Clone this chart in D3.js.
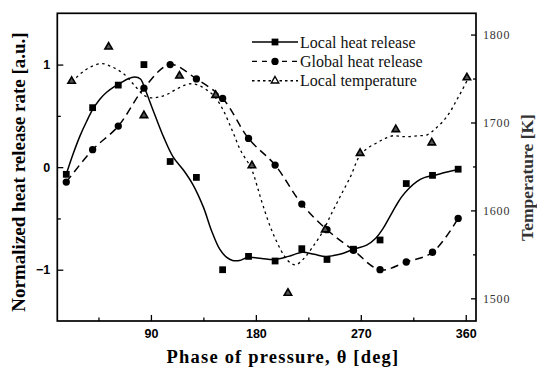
<!DOCTYPE html>
<meta charset="utf-8">
<script src="https://d3js.org/d3.v7.min.js"></script>
<style>
  body { margin: 0; background: #fff; }
  svg { display: block; }
</style>
<div id="my_dataviz"></div>
<script>

// measured points (phase in deg)
var hrPhase   = [17.4, 40, 62, 84, 106.5, 129, 151.5, 173.7, 196.5, 219.4, 241, 263.7, 286.5, 309, 331.5, 353.5];
var localHR   = [-0.07, 0.58, 0.80, 1.00, 0.055, -0.10, -1.00, -0.87, -0.915, -0.795, -0.90, -0.80, -0.71, -0.16, -0.08, -0.02];
var globalHR  = [-0.146, 0.17, 0.40, 0.77, 1.00, 0.86, 0.67, 0.28, 0.02, -0.36, -0.61, -0.81, -1.00, -0.925, -0.83, -0.50];
var tempPhase = [22, 53.7, 84, 114.5, 145.5, 176.6, 207.5, 239.5, 269.4, 300, 330.9, 361];
var localTemp = [1747, 1786, 1708, 1753, 1731, 1651, 1506, 1578, 1665, 1692, 1677, 1751];

// fitted curves
var hrFitPhase = [17.4, 23, 29, 35, 40, 46, 52, 58, 64, 70, 76, 81, 85, 92, 101, 109, 118, 126, 135, 142, 149, 155, 160, 166, 173, 185, 196, 208, 220, 230, 240, 252, 264, 275, 283, 289, 295, 300, 305, 311, 318, 325, 333, 343, 354];
var hrFit      = [-0.07, 0.12, 0.30, 0.45, 0.56, 0.66, 0.73, 0.78, 0.82, 0.86, 0.88, 0.86, 0.76, 0.55, 0.29, 0.10, -0.03, -0.17, -0.39, -0.62, -0.80, -0.88, -0.91, -0.91, -0.88, -0.89, -0.90, -0.87, -0.83, -0.85, -0.87, -0.85, -0.80, -0.76, -0.69, -0.60, -0.48, -0.38, -0.29, -0.21, -0.14, -0.10, -0.08, -0.05, -0.02];
var tFitPhase = [22.5, 30, 38, 48, 57, 67, 76, 84, 90, 97, 104, 112, 120, 126, 133, 140, 145, 152, 160, 167, 176, 181, 186, 194, 204, 209, 214, 221, 229, 237, 244, 252, 261, 269, 276, 284, 291, 298, 305, 312, 320, 327, 334, 341, 347, 352, 357, 362];
var tFit      = [1746, 1756, 1763, 1767, 1763, 1755, 1742, 1731, 1728, 1729, 1732, 1738, 1743, 1744, 1741, 1735, 1729, 1714, 1690, 1668, 1648, 1628, 1606, 1576, 1549, 1541, 1538, 1545, 1559, 1575, 1594, 1615, 1638, 1662, 1671, 1677, 1682, 1685, 1684, 1684, 1685, 1686, 1693, 1702, 1713, 1725, 1737, 1750];

var xTicks = [90, 180, 270, 360];
var xMinor = [45, 135, 225, 315];
var yTicks = [-1, 0, 1];
var yMinor = [-0.5, 0.5];
var tTicks = [1500, 1600, 1700, 1800];
var tMinor = [1550, 1650, 1750];

var legendNames = ["Local heat release", "Global heat release", "Local temperature"];

var margin = {top: 13.3, right: 61, bottom: 47, left: 57.3},
    width = 537 - margin.left - margin.right,
    height = 368 - margin.top - margin.bottom;

var svgRoot = d3.select("#my_dataviz")
  .append("svg")
    .attr("width", 537)
    .attr("height", 368);
var svg = svgRoot.append("g")
    .attr("transform", "translate(" + margin.left + "," + margin.top + ")");

var x = d3.scaleLinear().domain([9.7, 368.8]).range([0, width]);
var y = d3.scaleLinear().domain([-1.5, 1.5]).range([height, 0]);
var yT = d3.scaleLinear().domain([1474.2, 1824.2]).range([height, 0]);

var sansBold = "'Liberation Sans', Arial, sans-serif";
var serif = "'Liberation Serif', 'Times New Roman', serif";

function styleAxis(g, font, weight, size, color) {
  g.select(".domain").remove();
  g.selectAll(".tick line").attr("stroke", "#000").attr("stroke-width", 1.3);
  g.selectAll("text")
    .attr("font-family", font)
    .attr("font-weight", weight)
    .attr("font-size", size)
    .attr("fill", color);
}

// bottom axis
svg.append("g")
  .attr("transform", "translate(0," + height + ")")
  .call(d3.axisBottom(x).tickValues(xTicks).tickSizeInner(-6).tickSizeOuter(0).tickPadding(8))
  .call(styleAxis, sansBold, "bold", "12.5px", "#000");
svg.append("g")
  .attr("transform", "translate(0," + height + ")")
  .call(d3.axisBottom(x).tickValues(xMinor).tickSizeInner(-3.5).tickSizeOuter(0).tickFormat(""))
  .call(styleAxis, sansBold, "bold", "12px", "#000");

// left axis
svg.append("g")
  .call(d3.axisLeft(y).tickValues(yTicks).tickSizeInner(-6).tickSizeOuter(0).tickPadding(7).tickFormat(d3.format("d")))
  .call(styleAxis, sansBold, "bold", "12.5px", "#000");
svg.append("g")
  .call(d3.axisLeft(y).tickValues(yMinor).tickSizeInner(-3.5).tickSizeOuter(0).tickFormat(""))
  .call(styleAxis, sansBold, "bold", "12px", "#000");

// right axis
var rightAx = svg.append("g")
  .attr("transform", "translate(" + width + ",0)")
  .call(d3.axisRight(yT).tickValues(tTicks).tickSizeInner(-5).tickSizeOuter(0).tickPadding(7).tickFormat(d3.format("d")))
  .call(styleAxis, serif, "normal", "12px", "#333");
rightAx.selectAll("text").attr("letter-spacing", "0.8px");
svg.append("g")
  .attr("transform", "translate(" + width + ",0)")
  .call(d3.axisRight(yT).tickValues(tMinor).tickSizeInner(-3).tickSizeOuter(0).tickFormat(""))
  .call(styleAxis, serif, "normal", "12px", "#333");

// frame
svg.append("rect")
  .attr("width", width).attr("height", height)
  .attr("fill", "none").attr("stroke", "#000").attr("stroke-width", 1.7);

// curves
var hrFitData = hrFitPhase.map(function(d, i){ return [d, hrFit[i]]; });
var globalData = hrPhase.map(function(d, i){ return [d, globalHR[i]]; });
var tFitData = tFitPhase.map(function(d, i){ return [d, tFit[i]]; });

svg.append("path")
  .datum(hrFitData)
  .attr("fill", "none").attr("stroke", "#000").attr("stroke-width", 1.5)
  .attr("d", d3.line().curve(d3.curveCatmullRom)
    .x(function(d){ return x(d[0]); }).y(function(d){ return y(d[1]); }));

svg.append("path")
  .datum(globalData)
  .attr("fill", "none").attr("stroke", "#000").attr("stroke-width", 1.5)
  .attr("stroke-dasharray", "8,5")
  .attr("d", d3.line().curve(d3.curveCatmullRom)
    .x(function(d){ return x(d[0]); }).y(function(d){ return y(d[1]); }));

svg.append("path")
  .datum(tFitData)
  .attr("fill", "none").attr("stroke", "#000").attr("stroke-width", 1.3)
  .attr("stroke-dasharray", "2.5,3.5")
  .attr("d", d3.line().curve(d3.curveCatmullRom)
    .x(function(d){ return x(d[0]); }).y(function(d){ return yT(d[1]); }));

// markers
var sq = d3.symbol().type(d3.symbolSquare).size(46);
var ci = d3.symbol().type(d3.symbolCircle).size(42);
var tr = d3.symbol().type(d3.symbolTriangle).size(24);

svg.selectAll(".sq")
  .data(hrPhase)
  .enter().append("path")
    .attr("d", sq)
    .attr("transform", function(d, i){ return "translate(" + x(d) + "," + y(localHR[i]) + ")"; })
    .attr("fill", "#000");

svg.selectAll(".ci")
  .data(hrPhase)
  .enter().append("path")
    .attr("d", ci)
    .attr("transform", function(d, i){ return "translate(" + x(d) + "," + y(globalHR[i]) + ")"; })
    .attr("fill", "#000");

svg.selectAll(".tr")
  .data(tempPhase)
  .enter().append("path")
    .attr("d", tr)
    .attr("transform", function(d, i){ return "translate(" + x(d) + "," + yT(localTemp[i]) + ")"; })
    .attr("fill", "#555").attr("stroke", "#000").attr("stroke-width", 1.6);

// legend
var legend = svgRoot.append("g").attr("transform", "translate(252,42)");
var legDash = [null, "5,5", "2.5,3"];
var legSym = [sq, ci, tr];
legendNames.forEach(function(name, i) {
  var g = legend.append("g").attr("transform", "translate(0," + (i * 19.4) + ")");
  g.append("line")
    .attr("x1", 0).attr("x2", 46).attr("y1", 0).attr("y2", 0)
    .attr("stroke", "#000").attr("stroke-width", 1.4)
    .attr("stroke-dasharray", legDash[i]);
  var m = g.append("path").attr("d", legSym[i]).attr("transform", "translate(23,0)");
  if (i === 2) m.attr("fill", "#fff").attr("stroke", "#000").attr("stroke-width", 1.4);
  else m.attr("fill", "#000");
  g.append("text")
    .attr("x", 48).attr("y", 5.5)
    .attr("font-family", serif).attr("font-size", "16px").attr("fill", "#111")
    .text(name);
});

// axis titles
svgRoot.append("text")
  .attr("transform", "translate(25,172) rotate(-90)")
  .attr("text-anchor", "middle")
  .attr("font-family", serif).attr("font-weight", "bold").attr("font-size", "19px")
  .text("Normalized heat release rate [a.u.]");

svgRoot.append("text")
  .attr("transform", "translate(533,177.5) rotate(-90)")
  .attr("text-anchor", "middle")
  .attr("font-family", serif).attr("font-weight", "bold").attr("font-size", "17.5px")
  .attr("fill", "#333")
  .text("Temperature [K]");

svgRoot.append("text")
  .attr("x", 283).attr("y", 363)
  .attr("text-anchor", "middle")
  .attr("font-family", serif).attr("font-weight", "bold").attr("font-size", "18.5px")
  .attr("letter-spacing", "1.2px")
  .text("Phase of pressure, \u03b8 [deg]");

</script>
